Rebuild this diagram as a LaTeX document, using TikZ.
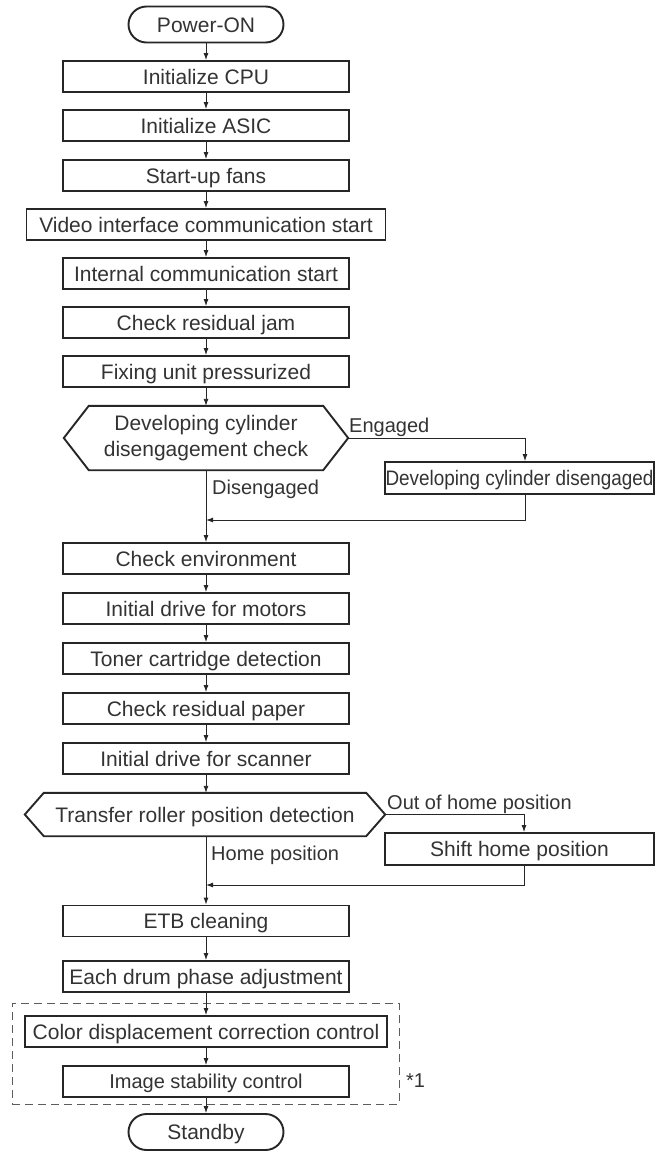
\documentclass[tikz,border=0pt]{standalone}
\usepackage{fontspec}
\usepackage{graphicx}
\setmainfont{Liberation Sans}
\usetikzlibrary{arrows.meta}
\definecolor{ink}{HTML}{262626}
\definecolor{txt}{HTML}{333333}
\newcommand\hexoutline[2]{%
  \draw[hexline] (#1.west) -- ([xshift=#2]#1.north west) -- ([xshift=-#2]#1.north east)
    -- (#1.east) -- ([xshift=-#2]#1.south east) -- ([xshift=#2]#1.south west) -- cycle;}
\tikzset{
  box/.style={draw=ink, line width=1.9pt, fill=white, minimum width=286, minimum height=31,
    inner sep=0, text=txt, font=\fontsize{21}{26}\selectfont, align=center,
    text height=15pt, text depth=0pt},
  term/.style={box, rounded corners=18, minimum width=155, minimum height=36},
  hexnode/.style={inner sep=0, text=txt, font=\fontsize{21}{26}\selectfont, align=center},
  hexline/.style={draw=ink, line width=1.9pt, line join=miter},
  arr/.style={draw=ink, line width=0.9pt, -{Latex[length=7pt,width=5pt]}},
  conn/.style={draw=ink, line width=0.9pt},
  lbl/.style={text=txt, font=\fontsize{20}{24}\selectfont, inner sep=0, anchor=base west},
  grpframe/.style={draw=ink!75, line width=0.9pt, dash pattern=on 8pt off 5pt}
}
\begin{document}
\begin{tikzpicture}[x=1pt,y=-1pt]
\useasboundingbox (0,0) rectangle (655,1151);
% group frame
\node[grpframe, minimum width=387, minimum height=101, inner sep=0] (grp) at (205.5,1053.5) {};
% main column
\node[term] (pwr) at (206,24.5) {Power-ON};
\node[box] (cpu) at (206,76.5) {Initialize CPU};
\node[box] (asic) at (206,125.5) {Initialize ASIC};
\node[box] (fans) at (206,175.5) {Start-up fans};
\node[box, minimum width=359] (video) at (206,224.5) {Video interface communication start};
\node[box] (intc) at (206,273.5) {Internal communication start};
\node[box] (jam) at (206,322.5) {Check residual jam};
\node[box] (fix) at (206,371.5) {Fixing unit pressurized};
\node[hexnode, minimum width=284, minimum height=64] (d1) at (206,438) {Developing cylinder\\disengagement check};
\hexoutline{d1}{25}
\node[box, minimum width=269, minimum height=32] (dd) at (519.5,478) {\scalebox{0.9}[1]{Developing cylinder disengaged}};
\node[box] (env) at (206,558.5) {Check environment};
\node[box] (mot) at (206,608.5) {Initial drive for motors};
\node[box] (ton) at (206,658.5) {Toner cartridge detection};
\node[box] (pap) at (206,708.5) {Check residual paper};
\node[box] (scn) at (206,758.5) {Initial drive for scanner};
\node[hexnode, minimum width=360, minimum height=43, text height=15pt, text depth=0pt] (d2) at (205,814.5) {Transfer roller position detection};
\hexoutline{d2}{19}
\node[box, minimum width=269, minimum height=32] (sh) at (519.5,849) {Shift home position};
\node[box] (etb) at (206,921) {ETB cleaning};
\node[box] (drum) at (206,976.5) {Each drum phase adjustment};
\node[box, minimum width=362] (col) at (206,1031.5) {Color displacement correction control};
\node[box, font=\fontsize{20}{24}\selectfont, text height=14.3pt] (img) at (206,1081.5) {Image stability control};
\node[term] (sby) at (206,1132) {Standby};
% labels
\node[lbl] (lEng) at (349,432) {Engaged};
\node[lbl] (lDis) at (212,494) {Disengaged};
\node[lbl] (lOut) at (387,809) {Out of home position};
\node[lbl] (lHome) at (211,860) {Home position};
\node[lbl] (lStar) at (406,1087) {*1};
% connectors
\draw[arr] (pwr) -- (cpu);
\draw[arr] (cpu) -- (asic);
\draw[arr] (asic) -- (fans);
\draw[arr] (fans) -- (video);
\draw[arr] (video) -- (intc);
\draw[arr] (intc) -- (jam);
\draw[arr] (jam) -- (fix);
\draw[arr] (fix) -- (d1);
\draw[arr] (d1) -- (env);
\coordinate (b1) at (525,438);
\coordinate (m1) at (525,520);
\draw[arr] (d1.east) -- (b1) -- (b1 |- dd.north);
\draw[arr] (dd.south -| m1) -- (m1) -- (m1 -| d1.south);
\draw[arr] (env) -- (mot);
\draw[arr] (mot) -- (ton);
\draw[arr] (ton) -- (pap);
\draw[arr] (pap) -- (scn);
\draw[arr] (scn.south) -- (scn.south |- d2.north);
\draw[arr] (d2.south -| etb.north) -- (etb.north);
\coordinate (b2) at (524,814.5);
\coordinate (m2) at (524,885);
\draw[arr] (d2.east) -- (b2) -- (b2 |- sh.north);
\draw[arr] (sh.south -| m2) -- (m2) -- (m2 -| etb.north);
\draw[arr] (etb) -- (drum);
\draw[arr] (drum) -- (col);
\draw[arr] (col) -- (img);
\draw[arr] (img) -- (sby);
\end{tikzpicture}
\end{document}
